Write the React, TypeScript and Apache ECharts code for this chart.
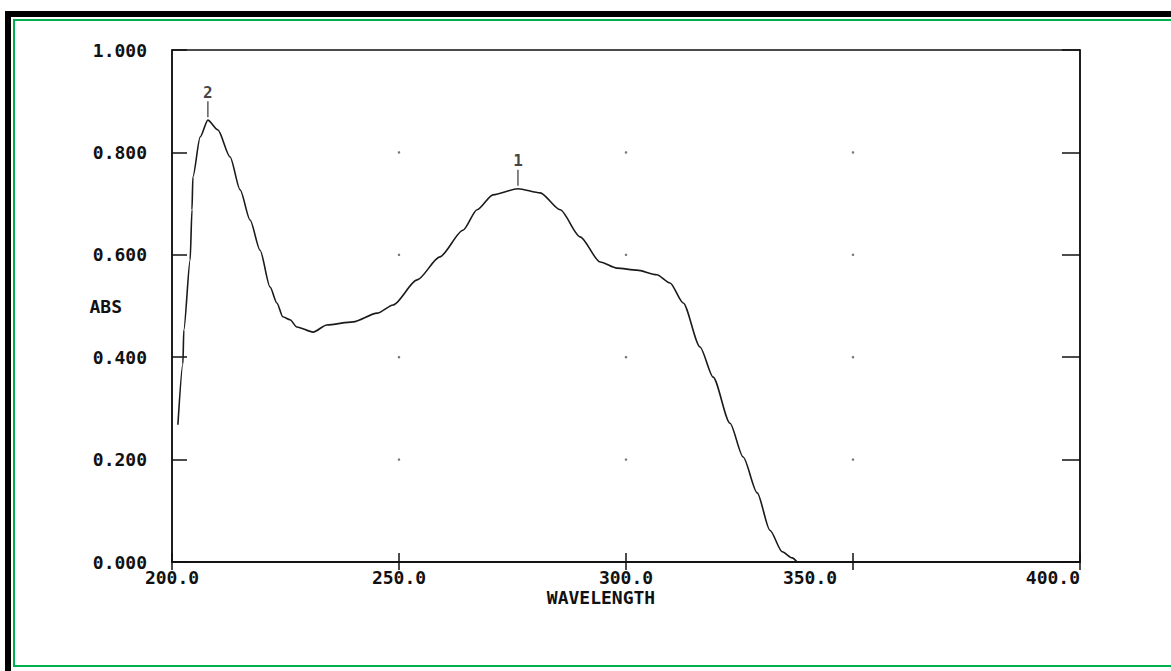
import React, { useEffect, useRef } from "react";
import * as echarts from "echarts";

// Spectrum trace (wavelength nm, absorbance)
const wavelengths = [
  201.3, 202.4, 202.6, 204.0, 204.4, 204.6, 206.2, 207.9, 210.1, 212.8, 215.0,
  217.2, 219.4, 221.6, 223.1, 224.4, 226.0, 227.5, 231.1, 234.1, 239.9, 245.2,
  248.7, 254.0, 259.0, 264.1, 267.2, 270.7, 276.2, 281.1, 285.5, 289.9, 294.3,
  298.0, 302.4, 306.8, 309.7, 312.6, 316.3, 319.2, 322.9, 325.8, 328.9, 331.7,
  334.4, 336.6, 337.7,
];
const absorbance = [
  0.268, 0.387, 0.453, 0.59, 0.688, 0.752, 0.83, 0.863, 0.844, 0.791, 0.727,
  0.668, 0.609, 0.537, 0.506, 0.479, 0.473, 0.459, 0.449, 0.463, 0.469, 0.486,
  0.502, 0.551, 0.596, 0.648, 0.688, 0.717, 0.729, 0.721, 0.688, 0.635, 0.586,
  0.574, 0.57, 0.561, 0.545, 0.506, 0.42, 0.361, 0.271, 0.205, 0.135, 0.062,
  0.02, 0.008, 0.0,
];

// Peak picks
const peakWavelengths = [207.9, 276.2];
const peakAbsorbance = [0.863, 0.729];
const peakLabels = ["2", "1"];

// Axis ticks
const xMin = 200;
const xMax = 400;
const xStep = 50;
const yMin = 0;
const yMax = 1;
const yStep = 0.2;
const innerXTicks = [250, 300, 350];
const innerYTicks = [0.2, 0.4, 0.6, 0.8];

const FONT = "DejaVu Sans Mono";

export default function App() {
  const ref = useRef<HTMLDivElement>(null);

  useEffect(() => {
    if (!ref.current) return;
    const chart = echarts.init(ref.current, null, { renderer: "svg" });

    const lineData = wavelengths.map((w, i) => [w, absorbance[i]]);
    const peakData = peakWavelengths.map((w, i) => [w, peakAbsorbance[i], peakLabels[i]]);
    const dotData: number[][] = [];
    innerXTicks.forEach((x) => innerYTicks.forEach((y) => dotData.push([x, y])));

    const labelStyle = {
      fontFamily: FONT,
      fontWeight: "bold" as const,
      fontSize: 18,
      color: "#111",
    };

    chart.setOption({
      animation: false,
      backgroundColor: "#ffffff",
      grid: {
        left: 172,
        right: 91,
        top: 50,
        bottom: 109,
        show: true,
        borderColor: "#111",
        borderWidth: 1.5,
        backgroundColor: "transparent",
      },
      xAxis: [
        {
          type: "value",
          min: xMin,
          max: xMax,
          interval: xStep,
          position: "bottom",
          name: "WAVELENGTH",
          nameLocation: "middle",
          nameGap: 26,
          nameMoveOverlap: false,
          nameTextStyle: { ...labelStyle, padding: [0, 50, 0, 0] },
          axisLine: { show: true, lineStyle: { color: "#111", width: 1.5 } },
          axisTick: { show: true, inside: true, length: 9, lineStyle: { color: "#111", width: 1.5 } },
          axisLabel: {
            ...labelStyle,
            margin: 6,
            alignMaxLabel: "right",
            formatter: (v: number) => (v === 350 ? `{s|${v.toFixed(1)}}` : v.toFixed(1)),
            rich: { s: { ...labelStyle, padding: [0, 86, 0, 0] } },
          },
          splitLine: { show: false },
        },
        {
          type: "value",
          min: xMin,
          max: xMax,
          interval: xStep,
          position: "top",
          axisLine: { show: true, lineStyle: { color: "#111", width: 1.5 } },
          axisTick: { show: true, inside: true, length: 8, lineStyle: { color: "#111", width: 1.5 } },
          axisLabel: { show: false },
          splitLine: { show: false },
        },
      ],
      yAxis: [
        {
          type: "value",
          min: yMin,
          max: yMax,
          interval: yStep,
          position: "left",
          name: "ABS",
          nameLocation: "middle",
          nameRotate: 0,
          nameGap: 50,
          nameMoveOverlap: false,
          nameTextStyle: { ...labelStyle, padding: [0, 0, 8, 0] },
          axisLine: { show: true, lineStyle: { color: "#111", width: 1.5 } },
          axisTick: { show: true, inside: true, length: 15, lineStyle: { color: "#111", width: 1.5 } },
          axisLabel: {
            ...labelStyle,
            margin: 25,
            formatter: (v: number) => v.toFixed(3),
          },
          splitLine: { show: false },
        },
        {
          type: "value",
          min: yMin,
          max: yMax,
          interval: yStep,
          position: "right",
          axisLine: { show: true, lineStyle: { color: "#111", width: 1.5 } },
          axisTick: { show: true, inside: true, length: 18, lineStyle: { color: "#111", width: 1.5 } },
          axisLabel: { show: false },
          splitLine: { show: false },
        },
      ],
      series: [
        {
          type: "scatter",
          name: "grid dots",
          data: dotData,
          symbol: "circle",
          symbolSize: 2.5,
          itemStyle: { color: "#555" },
          silent: true,
        },
        {
          type: "line",
          name: "spectrum",
          data: lineData,
          showSymbol: false,
          smooth: 0.25,
          smoothMonotone: "x",
          lineStyle: { color: "#1a1a1a", width: 1.6 },
        },
        {
          type: "scatter",
          name: "peaks",
          data: peakData,
          symbol: "rect",
          symbolSize: [1.5, 16],
          symbolOffset: [0, -11],
          itemStyle: { color: "#333" },
          label: {
            show: true,
            position: "top",
            distance: 1,
            formatter: (p: any) => p.value[2],
            fontFamily: FONT,
            fontWeight: "bold",
            fontSize: 16,
            color: "#111",
          },
        },
      ],
    });

    return () => chart.dispose();
  }, []);

  return (
    <div
      style={{
        position: "fixed",
        left: 0,
        top: 0,
        width: 1171,
        height: 671,
        background: "#ffffff",
        overflow: "hidden",
      }}
    >
      <div ref={ref} style={{ position: "absolute", left: 0, top: 0, width: 1171, height: 671 }} />
      {/* scanned page frame */}
      <div style={{ position: "absolute", left: 5, top: 11, width: 1166, height: 6, background: "#000" }} />
      <div style={{ position: "absolute", left: 5, top: 11, width: 6, height: 660, background: "#000" }} />
      <div style={{ position: "absolute", left: 13, top: 19, width: 1158, height: 2, background: "#00b050" }} />
      <div style={{ position: "absolute", left: 13, top: 19, width: 2, height: 648, background: "#00b050" }} />
      <div style={{ position: "absolute", left: 13, top: 665, width: 1158, height: 2, background: "#00b050" }} />
    </div>
  );
}
